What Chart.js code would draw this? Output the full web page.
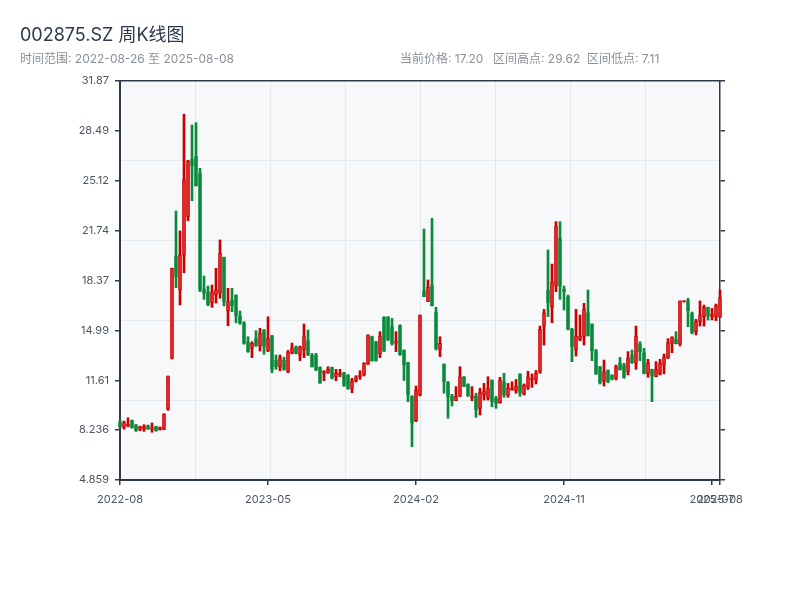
<!DOCTYPE html>
<html lang="zh-CN">
<head>
<meta charset="utf-8">
<title>002875.SZ 周K线图</title>
<script src="https://cdn.jsdelivr.net/npm/chart.js@4.4.1/dist/chart.umd.min.js"></script>
<style>
  html, body { margin: 0; padding: 0; background: #fff; }
  #wrap { position: relative; width: 800px; height: 600px; font-family: Inter, 'Noto Sans CJK SC', sans-serif; }
  #chart { position: absolute; left: 0; top: 0; }
  .title { position: absolute; left: 20px; top: 24px; font-size: 18px; line-height: 22px; color: #2d3a4b; white-space: nowrap; }
  .sub { position: absolute; top: 52px; font-size: 12px; line-height: 14px; color: #8a9099; white-space: nowrap; }
</style>
</head>
<body>
<div id="wrap">
  <canvas id="chart" width="800" height="600"></canvas>
  <div class="title">002875.SZ 周K线图</div>
  <div class="sub" style="left:20px">时间范围: 2022-08-26 至 2025-08-08</div>
  <div class="sub" style="left:400px">当前价格: 17.20</div>
  <div class="sub" style="left:493px">区间高点: 29.62</div>
  <div class="sub" style="left:587px">区间低点: 7.11</div>
</div>
<script>
// weekly OHLC, one entry per week (151 weeks)
const opens = [
  8.80, 8.42, 8.50, 8.90, 8.60, 8.28, 8.30, 8.55, 8.28, 8.48,
  8.26, 8.29, 9.64, 13.10, 19.98, 17.72, 20.09, 22.69, 26.57, 26.79,
  25.62, 17.80, 17.60, 16.84, 17.38, 17.50, 19.93, 16.32, 17.04, 17.38,
  15.98, 15.50, 14.22, 13.77, 14.45, 13.95, 15.01, 13.59, 14.63, 12.98,
  12.53, 12.98, 12.20, 13.43, 13.88, 13.32, 13.66, 14.30, 13.30, 13.32,
  12.49, 12.08, 12.13, 12.49, 11.85, 11.97, 12.13, 11.97, 11.06, 11.58,
  11.85, 11.97, 12.71, 14.56, 14.22, 13.39, 15.87, 15.90, 15.24, 14.11,
  15.35, 13.66, 12.80, 10.55, 8.87, 10.61, 17.65, 16.93, 18.06, 16.21,
  13.66, 12.71, 11.51, 10.52, 10.23, 10.52, 11.85, 11.36, 10.40, 10.55,
  9.71, 10.61, 10.39, 11.63, 10.39, 10.10, 11.51, 10.61, 10.95, 10.90,
  12.04, 10.68, 11.13, 11.63, 11.63, 12.19, 15.28, 17.72, 16.59, 17.99,
  21.22, 17.76, 17.27, 15.06, 13.66, 14.38, 14.52, 16.19, 15.42, 13.61,
  12.53, 11.59, 12.30, 11.97, 11.74, 12.76, 12.64, 12.19, 13.30, 12.76,
  14.07, 13.48, 12.04, 12.35, 11.85, 12.04, 12.64, 13.12, 14.11, 14.38,
  14.07, 16.94, 17.00, 16.14, 14.90, 15.58, 15.92, 16.55, 15.92, 15.92,
  15.87
];
const highs = [
  8.90, 8.85, 9.07, 8.92, 8.62, 8.50, 8.60, 8.58, 8.72, 8.50,
  8.45, 9.35, 11.90, 19.20, 23.07, 21.72, 29.62, 26.50, 28.89, 29.05,
  25.96, 18.67, 17.99, 18.06, 19.19, 21.11, 19.95, 17.83, 17.84, 17.40,
  16.30, 15.58, 14.56, 14.22, 14.97, 15.13, 15.05, 15.91, 14.65, 13.32,
  13.32, 13.18, 13.63, 14.13, 13.93, 13.93, 15.42, 15.01, 13.43, 13.43,
  12.52, 12.26, 12.53, 12.50, 12.35, 12.35, 12.15, 12.00, 11.74, 11.92,
  12.26, 12.80, 14.68, 14.60, 14.25, 14.90, 15.92, 15.92, 15.80, 14.90,
  15.36, 13.67, 12.82, 10.56, 11.22, 16.03, 21.85, 18.40, 22.57, 16.55,
  14.56, 12.72, 11.52, 10.66, 11.18, 12.53, 11.86, 11.37, 11.18, 10.73,
  11.07, 11.40, 11.85, 11.64, 10.52, 11.81, 12.08, 11.40, 11.51, 11.67,
  12.05, 11.36, 12.22, 12.04, 12.27, 15.28, 16.41, 20.43, 19.48, 22.35,
  22.35, 17.99, 17.38, 15.13, 16.41, 16.03, 16.82, 17.72, 15.43, 13.70,
  12.55, 12.98, 12.31, 11.98, 12.64, 13.16, 12.76, 13.55, 13.66, 15.28,
  14.22, 13.77, 13.03, 12.36, 12.87, 13.03, 13.39, 14.43, 14.56, 14.90,
  16.98, 16.98, 17.16, 16.23, 15.74, 16.98, 16.70, 16.56, 16.48, 16.77,
  17.72
];
const lows = [
  8.40, 8.30, 8.46, 8.36, 8.15, 8.20, 8.15, 8.28, 8.09, 8.16,
  8.24, 8.26, 9.58, 13.05, 17.88, 16.71, 18.89, 22.41, 23.77, 24.76,
  17.61, 17.09, 16.66, 16.55, 16.84, 17.16, 16.64, 15.30, 16.25, 15.50,
  15.40, 14.05, 13.50, 13.14, 13.90, 13.59, 13.37, 13.55, 12.12, 12.35,
  12.25, 12.30, 12.12, 13.40, 13.39, 12.94, 13.14, 13.28, 12.50, 12.26,
  11.40, 11.58, 12.08, 11.70, 11.58, 11.85, 11.20, 11.00, 10.77, 11.49,
  11.67, 11.90, 12.67, 12.90, 12.90, 13.14, 13.55, 14.30, 13.99, 13.55,
  13.30, 11.60, 10.16, 7.11, 8.81, 10.55, 17.27, 16.93, 16.64, 13.66,
  13.21, 10.73, 9.04, 9.87, 10.23, 10.52, 11.18, 10.52, 10.23, 9.10,
  9.26, 10.27, 10.27, 9.82, 9.71, 10.05, 10.46, 10.46, 10.93, 10.73,
  10.52, 10.61, 10.99, 11.13, 11.36, 12.08, 14.00, 15.92, 15.51, 17.61,
  17.09, 16.37, 15.02, 12.87, 13.25, 14.29, 14.00, 14.61, 12.94, 12.00,
  11.36, 11.22, 11.45, 11.63, 11.63, 12.30, 11.74, 11.97, 12.75, 12.35,
  12.94, 12.04, 11.81, 10.16, 11.85, 11.97, 12.04, 13.08, 13.48, 14.07,
  13.93, 16.90, 15.24, 14.75, 14.68, 15.28, 15.28, 15.69, 15.70, 15.65,
  15.87
];
const closes = [
  8.45, 8.75, 8.65, 8.40, 8.18, 8.46, 8.50, 8.30, 8.40, 8.18,
  8.42, 9.33, 11.90, 19.19, 18.62, 20.09, 25.20, 26.45, 26.13, 24.76,
  17.72, 17.50, 16.71, 17.60, 17.74, 20.21, 16.93, 16.93, 16.66, 15.98,
  15.46, 14.11, 13.54, 14.11, 13.95, 14.79, 13.88, 14.45, 12.31, 12.53,
  13.14, 12.31, 13.54, 13.81, 13.43, 13.88, 14.56, 13.32, 12.53, 12.31,
  11.42, 12.22, 12.35, 11.74, 12.08, 12.08, 11.22, 11.04, 11.58, 11.85,
  11.97, 12.76, 14.68, 12.94, 12.94, 14.61, 13.61, 14.35, 14.11, 14.27,
  13.32, 12.64, 10.60, 8.70, 10.95, 16.03, 17.27, 17.90, 16.64, 13.77,
  14.11, 11.51, 10.46, 10.23, 10.52, 11.85, 11.20, 10.55, 10.55, 9.60,
  10.80, 10.90, 11.07, 10.16, 10.05, 11.63, 10.61, 11.07, 11.07, 11.20,
  10.77, 11.29, 11.85, 11.74, 12.10, 15.06, 16.14, 16.86, 18.28, 22.05,
  17.99, 17.61, 15.06, 13.89, 14.61, 14.56, 16.41, 14.61, 13.61, 12.04,
  11.45, 12.19, 11.52, 11.68, 12.53, 12.31, 11.81, 13.10, 12.80, 14.61,
  13.55, 12.08, 12.76, 11.90, 12.35, 12.76, 13.16, 14.16, 14.52, 14.07,
  16.98, 16.98, 16.32, 14.83, 15.58, 16.03, 16.55, 15.96, 16.07, 16.70,
  17.20
];

// x tick positions (week index) and their labels
const tickIndex = [0, 37, 74, 111, 148, 150];
const tickLabels = ['2022-08', '2023-05', '2024-02', '2024-11', '2025-07', '2025-08'];
// y axis ticks
const yTicks = [4.859, 8.236, 11.61, 14.99, 18.37, 21.74, 25.12, 28.49, 31.87];

const AXIS = '#2d3a4b';
const GRID = '#e3e6eb';
const RED = '#ee2b2b', RED_EDGE = '#c80000';
const GREEN = '#0a8a3a';

const up = closes.map((c, i) => c >= opens[i]);
const bodies = opens.map((o, i) => ({ x: i, y: [o, closes[i]] }));
const wicks = lows.map((l, i) => ({ x: i, y: [l, highs[i]] }));

Chart.defaults.font.family = "Inter, 'Noto Sans CJK SC', sans-serif";
Chart.defaults.font.size = 11;
Chart.defaults.color = '#4b5563';

const plotBg = {
    id: 'plotBg',
    beforeDraw(chart) {
        const { ctx, chartArea: a } = chart;
        ctx.save();
        ctx.fillStyle = '#f7f8fa';
        ctx.fillRect(a.left, a.top, a.right - a.left, a.bottom - a.top);
        ctx.restore();
    }
};

const setYTicks = s => { s.ticks = yTicks.map(v => ({ value: v })); };

new Chart(document.getElementById('chart'), {
    type: 'bar',
    data: {
        datasets: [
            {
                label: 'wick', data: wicks, order: 2, grouped: false, clip: false,
                backgroundColor: up.map(u => u ? RED_EDGE : GREEN),
                barThickness: 2
            },
            {
                label: 'body', data: bodies, order: 1, grouped: false, clip: false,
                backgroundColor: up.map(u => u ? RED : GREEN),
                borderColor: up.map(u => u ? RED_EDGE : GREEN),
                borderWidth: 1, borderSkipped: false,
                barThickness: 3, minBarLength: 1
            }
        ]
    },
    options: {
        responsive: false, animation: false,
        layout: { padding: { top: 81, left: 0, right: 0, bottom: 0 } },
        plugins: { legend: { display: false }, tooltip: { enabled: false } },
        scales: {
            x: {
                type: 'linear', position: 'bottom', min: 0, max: 150, offset: false,
                afterBuildTicks: s => { s.ticks = tickIndex.map(v => ({ value: v })); },
                afterFit: s => { s.height = 120; },
                ticks: { autoSkip: false, maxRotation: 0, padding: 8,
                    callback: v => tickLabels[tickIndex.indexOf(v)] },
                grid: { offset: false, drawOnChartArea: false, tickLength: 5, color: AXIS, lineWidth: 1.5 },
                border: { color: AXIS, width: 2 }
            },
            xg: {
                type: 'linear', position: 'top', min: 0, max: 8, offset: false,
                afterFit: s => { s.height = 0; },
                ticks: { display: false, stepSize: 1 },
                grid: { offset: false, drawTicks: false,
                    color: c => (c.tick && (c.tick.value === 0 || c.tick.value === 8)) ? 'rgba(0,0,0,0)' : GRID },
                border: { color: AXIS, width: 1.5 }
            },
            y: {
                type: 'linear', position: 'left', min: 4.859, max: 31.87,
                afterBuildTicks: setYTicks,
                afterFit: s => { s.width = 120; },
                ticks: { padding: 6, callback: v => String(v) },
                grid: { drawOnChartArea: false, tickLength: 5, color: AXIS, lineWidth: 1.5 },
                border: { color: AXIS, width: 2 }
            },
            yg: {
                type: 'linear', position: 'left', min: 0, max: 5,
                afterFit: s => { s.width = 0; },
                ticks: { display: false, stepSize: 1 },
                grid: { drawTicks: false,
                    color: c => (c.tick && (c.tick.value === 0 || c.tick.value === 5)) ? 'rgba(0,0,0,0)' : GRID },
                border: { display: false }
            },
            y2: {
                type: 'linear', position: 'right', min: 4.859, max: 31.87,
                afterBuildTicks: setYTicks,
                afterFit: s => { s.width = 80; },
                ticks: { display: false },
                grid: { drawOnChartArea: false, tickLength: 5, color: AXIS, lineWidth: 1.5 },
                border: { color: AXIS, width: 1.5 }
            }
        }
    },
    plugins: [plotBg]
});
</script>
</body>
</html>
